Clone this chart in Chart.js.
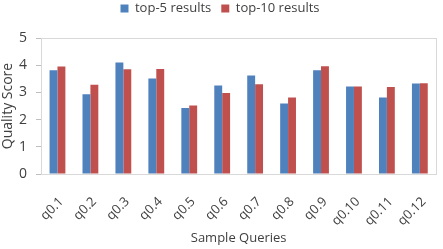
<!DOCTYPE html>
<html>
<head>
<meta charset="utf-8">
<script src="https://cdn.jsdelivr.net/npm/chart.js@4.4.0/dist/chart.umd.min.js"></script>
<style>
    html, body { margin: 0; padding: 0; background: #fff; }
    #chart { display: block; }
</style>
</head>
<body>
<canvas id="chart" width="443" height="249"></canvas>
<script>
// Chart data
const queries = ['q0.1', 'q0.2', 'q0.3', 'q0.4', 'q0.5', 'q0.6', 'q0.7', 'q0.8', 'q0.9', 'q0.10', 'q0.11', 'q0.12'];
const top5 = [3.81, 2.93, 4.10, 3.51, 2.43, 3.25, 3.62, 2.59, 3.81, 3.22, 2.81, 3.33];
const top10 = [3.95, 3.28, 3.85, 3.86, 2.52, 2.98, 3.30, 2.81, 3.96, 3.22, 3.20, 3.34];
const yTicks = [0, 1, 2, 3, 4, 5];

const FONT = "'Open Sans', sans-serif";
const TEXT = '#404040';

// Box around the plot area
const plotBorder = {
    id: 'plotBorder',
    beforeDatasetsDraw(chart) {
        const { ctx, chartArea: a } = chart;
        ctx.save();
        ctx.strokeStyle = '#d9d9d9';
        ctx.lineWidth = 1;
        ctx.strokeRect(Math.round(a.left) + 0.5, Math.round(a.top) + 0.5,
            Math.round(a.right - a.left), Math.round(a.bottom - a.top));
        ctx.restore();
    }
};

// Fixed legend block height (plot starts below it)
const legendHeight = {
    id: 'legendHeight',
    beforeInit(chart) {
        const fit = chart.legend.fit;
        chart.legend.fit = function () {
            fit.bind(chart.legend)();
            this.height = 46;
        };
    }
};

const ctx = document.getElementById('chart').getContext('2d');
new Chart(ctx, {
    type: 'bar',
    data: {
        labels: queries,
        datasets: [
            {
                label: 'top-5 results',
                data: top5,
                backgroundColor: '#4f81bd'
            },
            {
                label: 'top-10 results',
                data: top10,
                backgroundColor: '#c0504d'
            }
        ]
    },
    options: {
        responsive: false,
        animation: false,
        datasets: {
            bar: {
                categoryPercentage: 0.48,
                barPercentage: 1.0
            }
        },
        layout: {
            padding: { top: -8, right: 3, bottom: 0, left: 0 }
        },
        plugins: {
            legend: {
                position: 'top',
                align: 'center',
                labels: {
                    boxWidth: 8,
                    boxHeight: 8,
                    padding: 10,
                    color: TEXT,
                    font: { family: FONT, size: 13 }
                }
            },
            tooltip: { enabled: false }
        },
        scales: {
            x: {
                afterFit(scale) {
                    scale.height = 75;
                },
                grid: { display: false },
                border: { display: true, color: '#bfbfbf' },
                ticks: {
                    maxRotation: 45,
                    minRotation: 45,
                    labelOffset: 4,
                    color: TEXT,
                    padding: 12,
                    font: { family: FONT, size: 13 }
                },
                title: {
                    display: true,
                    text: 'Sample Queries',
                    color: TEXT,
                    padding: { top: 0, bottom: 3 },
                    font: { family: FONT, size: 13 }
                }
            },
            y: {
                min: 0,
                max: 5,
                afterFit(scale) {
                    scale.width = 41;
                },
                afterBuildTicks(scale) {
                    scale.ticks = yTicks.map(v => ({ value: v }));
                },
                grid: {
                    display: true,
                    drawOnChartArea: false,
                    drawTicks: true,
                    tickLength: 5,
                    color: '#bfbfbf'
                },
                border: { display: true, color: '#bfbfbf' },
                ticks: {
                    color: TEXT,
                    padding: 9,
                    font: { family: FONT, size: 14 }
                },
                title: {
                    display: true,
                    text: 'Quality Score',
                    color: TEXT,
                    padding: { top: 0, bottom: 2 },
                    font: { family: FONT, size: 14 }
                }
            }
        }
    },
    plugins: [plotBorder, legendHeight]
});
</script>
</body>
</html>
